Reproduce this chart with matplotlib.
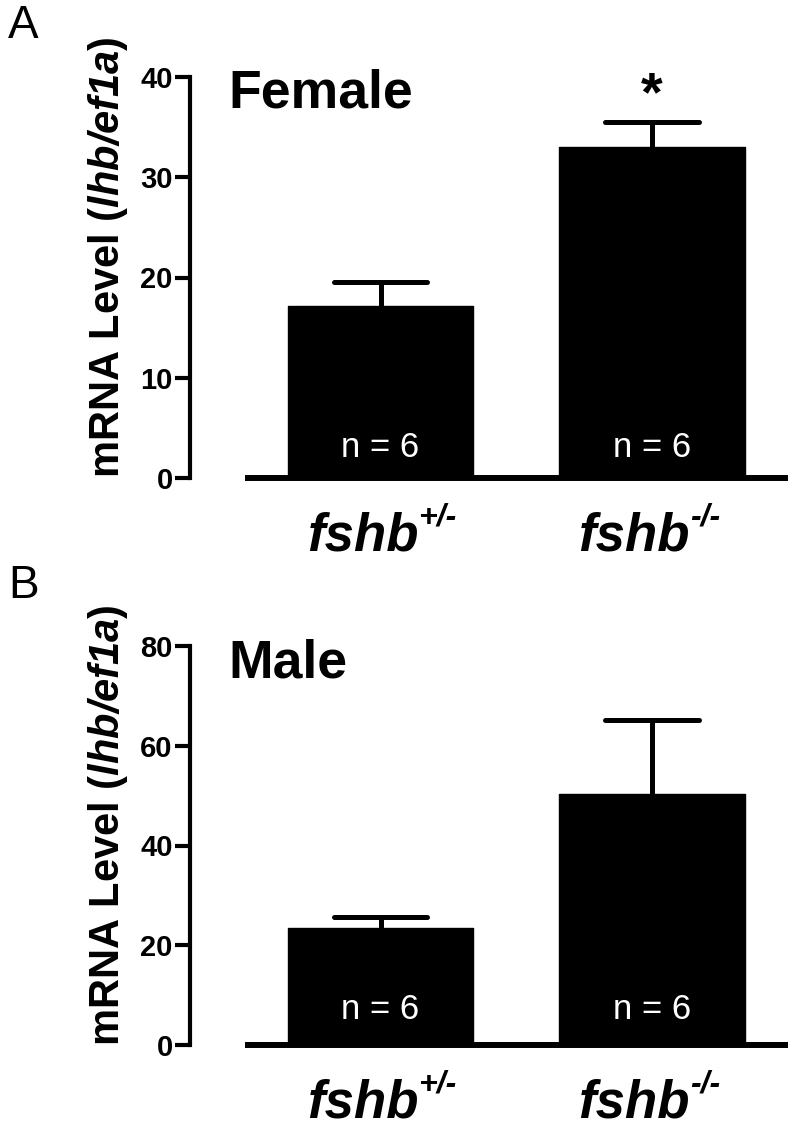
import numpy as np
import matplotlib
matplotlib.use('Agg')
import matplotlib.pyplot as plt

plt.rcParams['font.family'] = ['Liberation Sans', 'DejaVu Sans']
plt.rcParams['mathtext.fontset'] = 'custom'
plt.rcParams['mathtext.rm'] = 'Liberation Sans'
plt.rcParams['mathtext.bf'] = 'Liberation Sans:bold'
plt.rcParams['mathtext.it'] = 'Liberation Sans:italic'
plt.rcParams['mathtext.bfit'] = 'Liberation Sans:italic:bold'

# data
gene = 'fshb'
genotypes = ['+/-', '-/-']
female_mean = [17.2, 33.0]
female_sem = [2.4, 2.5]
male_mean = [23.5, 50.3]
male_sem = [2.2, 14.8]
n_fish = [6, 6]
female_ticks = [0, 10, 20, 30, 40]
male_ticks = [0, 20, 40, 60, 80]

ylabel = r'mRNA Level ($\mathbfit{lhb/ef1a}$)'

fig = plt.figure(figsize=(7.88, 11.22), dpi=100)
W, H = 788.0, 1122.0


def panel(rect, mean, sem, ticks, title, title_y, letter, letter_y, n_off, star=False):
    ax = fig.add_axes(rect)
    x = np.arange(len(mean))
    ax.bar(x, mean, width=0.685, color='black', edgecolor='black', linewidth=1,
           joinstyle='round', zorder=2)
    for xi, m, s in zip(x, mean, sem):
        ax.plot([xi, xi], [m, m + s], color='black', lw=3.6, zorder=3,
                solid_capstyle='butt', clip_on=False)
        ax.plot([xi - 0.173, xi + 0.173], [m + s, m + s], color='black', lw=3.6,
                zorder=3, solid_capstyle='round', clip_on=False)
    for xi, n in zip(x, n_fish):
        ax.annotate('n = %d' % n, xy=(xi, 0), xytext=(0, n_off), textcoords='offset points',
                    ha='center', va='baseline', color='white', fontsize=25, zorder=4)
    if star:
        ax.annotate('*', xy=(1, mean[1] + sem[1]), xytext=(0, 0), textcoords='offset points',
                    ha='center', va='bottom', fontsize=40, fontweight='bold')
    # baseline offset from the y axis, GraphPad style
    ax.plot([-0.5, 1.5], [0, 0], color='black', lw=4.3, solid_capstyle='butt',
            clip_on=False, zorder=5)
    ax.set_xlim(-0.7017, 1.501)
    ax.set_ylim(0, ticks[-1])
    for sp in ['top', 'right', 'bottom']:
        ax.spines[sp].set_visible(False)
    ax.spines['left'].set_linewidth(3)
    ax.set_yticks(ticks)
    ax.tick_params(axis='y', direction='out', length=10.5, width=3, labelsize=21, pad=2)
    for t in ax.get_yticklabels():
        t.set_fontweight('bold')
    ax.set_xticks([])
    # genotype labels: gene name plus superscript
    for xi, g in zip(x, genotypes):
        main = ax.annotate(gene, xy=(xi, 0), xytext=(-13, -52), textcoords='offset points',
                           ha='center', va='baseline', fontsize=38, fontweight='bold',
                           fontstyle='italic', annotation_clip=False)
        ax.annotate(g, xy=(1.0, 0), xycoords=(main, 'axes fraction'), xytext=(0, -34),
                    textcoords='offset points', ha='left', va='baseline', fontsize=23,
                    fontweight='bold', fontstyle='italic', annotation_clip=False)
    ax.patch.set_visible(False)
    fig.text(228 / W, 1 - title_y / H, title, fontsize=38.5, fontweight='bold',
             ha='left', va='baseline')
    fig.text(8 / W, 1 - letter_y / H, letter, fontsize=33, ha='left', va='baseline')
    mid = (rect[1] + rect[3] / 2) + 20 / H
    fig.text(108 / W, mid, ylabel, rotation=90, fontsize=30, fontweight='bold',
             ha='center', va='center')
    return ax


panel([190 / W, 1 - 478 / H, 1 - 190 / W, 401 / H], female_mean, female_sem,
      female_ticks, 'Female', 108, 'A', 38, 15, star=True)
panel([190 / W, 1 - 1045 / H, 1 - 190 / W, 399 / H], male_mean, male_sem,
      male_ticks, 'Male', 678, 'B', 598, 19)

fig.savefig('out.png', dpi=100)
